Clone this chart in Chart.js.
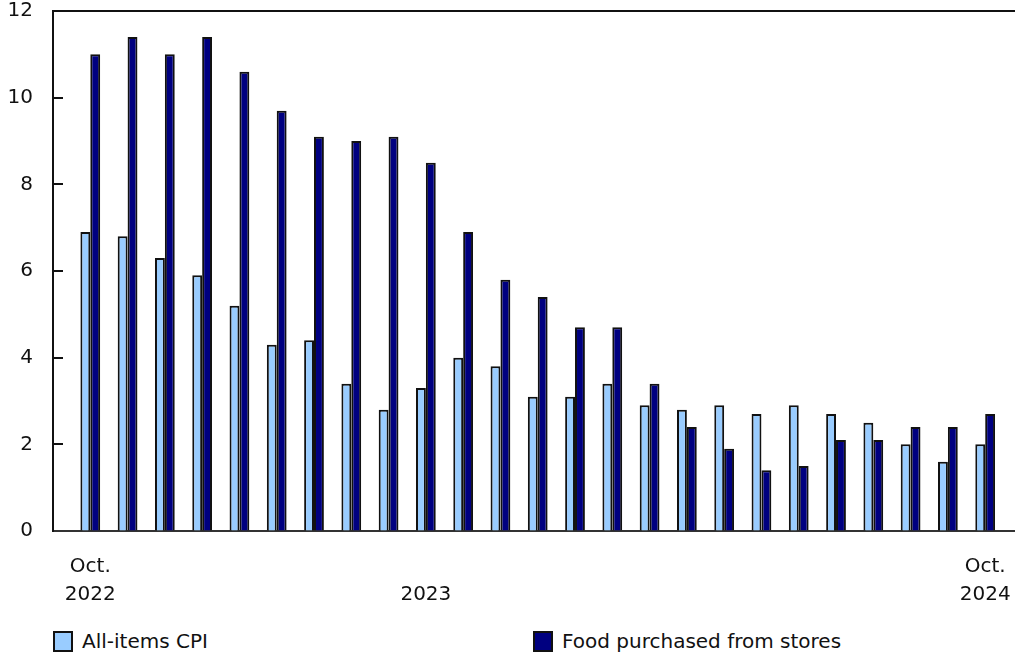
<!DOCTYPE html>
<html>
<head>
<meta charset="utf-8">
<script src="https://cdn.jsdelivr.net/npm/chart.js@4.4.1/dist/chart.umd.min.js"></script>
<style>
    html, body { margin: 0; padding: 0; background: #fff; }
    #wrap { position: relative; width: 1015px; height: 657px; font-family: 'DejaVu Sans', Verdana, sans-serif; }
    #chartBox { position: absolute; left: 0; top: 0; width: 1015px; height: 623px; }
    .legend-item { position: absolute; top: 631px; height: 20px; display: flex; align-items: center; font-size: 20px; color: #111; white-space: nowrap; }
    .legend-box { width: 16px; height: 17px; border: 2px solid #111; margin-right: 9px; }
</style>
</head>
<body>
<div id="wrap">
    <div id="chartBox"><canvas id="cpiChart"></canvas></div>
    <div id="legend"></div>
</div>
<script>
// Month labels (only a few are shown on the axis)
const monthLabels = [
    ['Oct.', '2022'], '', '', '', '', '', '', '', '', ['', '2023'], '', '', '',
    '', '', '', '', '', '', '', '', '', '', '', ['Oct.', '2024']
];

// 12-month % change, Oct. 2022 to Oct. 2024
const allItemsCPI = [6.9, 6.8, 6.3, 5.9, 5.2, 4.3, 4.4, 3.4, 2.8, 3.3, 4.0, 3.8, 3.1,
    3.1, 3.4, 2.9, 2.8, 2.9, 2.7, 2.9, 2.7, 2.5, 2.0, 1.6, 2.0];
const foodStores = [11.0, 11.4, 11.0, 11.4, 10.6, 9.7, 9.1, 9.0, 9.1, 8.5, 6.9, 5.8, 5.4,
    4.7, 4.7, 3.4, 2.4, 1.9, 1.4, 1.5, 2.1, 2.1, 2.4, 2.4, 2.7];

const seriesNames = ['All-items CPI', 'Food purchased from stores'];
const seriesColors = ['#99CCFF', '#000080'];
const legendLeft = [53, 533];

const FONT = "'DejaVu Sans', Verdana, sans-serif";

function toPoints(values) {
    return values.map((v, i) => ({ x: i, y: v }));
}

// frame line on top and short inner ticks on the y axis
const framePlugin = {
    id: 'frame',
    afterDraw(chart) {
        const ctx = chart.ctx;
        const area = chart.chartArea;
        const yScale = chart.scales.y;
        ctx.save();
        ctx.strokeStyle = '#111';
        ctx.lineWidth = 2;
        ctx.beginPath();
        ctx.moveTo(area.left - 1, area.top);
        ctx.lineTo(area.right, area.top);
        yScale.ticks.forEach(t => {
            const y = Math.round(yScale.getPixelForValue(t.value));
            if (t.value > 0 && t.value < 12) {
                ctx.moveTo(area.left, y);
                ctx.lineTo(area.left + 10, y);
            }
        });
        ctx.stroke();
        ctx.restore();
    }
};

document.addEventListener('DOMContentLoaded', function() {
    const ctx = document.getElementById('cpiChart').getContext('2d');
    const chart = new Chart(ctx, {
        type: 'bar',
        data: {
            datasets: [{
                label: seriesNames[0],
                data: toPoints(allItemsCPI),
                backgroundColor: seriesColors[0],
                borderColor: '#111',
                borderWidth: 2
            }, {
                label: seriesNames[1],
                data: toPoints(foodStores),
                backgroundColor: seriesColors[1],
                borderColor: '#111',
                borderWidth: 2
            }]
        },
        options: {
            responsive: true,
            maintainAspectRatio: false,
            animation: false,
            layout: { padding: { top: 11, right: 0, left: 0, bottom: 0 } },
            datasets: {
                bar: { categoryPercentage: 0.53, barPercentage: 1.0 }
            },
            plugins: {
                legend: { display: false },
                tooltip: { enabled: false }
            },
            scales: {
                x: {
                    type: 'linear',
                    min: -1,
                    max: 24.8,
                    offset: false,
                    grid: { display: false },
                    border: { display: true, color: '#333', width: 2 },
                    afterBuildTicks: function(scale) {
                        scale.ticks = monthLabels.map((_, i) => ({ value: i }));
                    },
                    ticks: {
                        autoSkip: false,
                        maxRotation: 0,
                        padding: 14,
                        color: '#111',
                        font: { family: FONT, size: 20, lineHeight: 1.4 },
                        callback: function(value) {
                            return monthLabels[value] || '';
                        }
                    },
                    afterFit: function(scale) {
                        scale.paddingLeft = 0;
                        scale.paddingRight = 0;
                    }
                },
                y: {
                    min: 0,
                    max: 12,
                    grid: { display: true, drawOnChartArea: false, drawTicks: false },
                    border: { display: true, color: '#111', width: 2 },
                    ticks: {
                        stepSize: 2,
                        padding: 20,
                        color: '#111',
                        font: { family: FONT, size: 20 }
                    },
                    afterFit: function(scale) {
                        scale.width = 53;
                        scale.paddingTop = 0;
                        scale.paddingBottom = 0;
                    }
                }
            }
        },
        plugins: [framePlugin]
    });

    // legend outside the canvas
    const legend = document.getElementById('legend');
    chart.data.datasets.forEach((ds, i) => {
        const item = document.createElement('div');
        item.className = 'legend-item';
        item.style.left = legendLeft[i] + 'px';
        const box = document.createElement('span');
        box.className = 'legend-box';
        box.style.background = ds.backgroundColor;
        item.appendChild(box);
        item.appendChild(document.createTextNode(ds.label));
        legend.appendChild(item);
    });
});
</script>
</body>
</html>
